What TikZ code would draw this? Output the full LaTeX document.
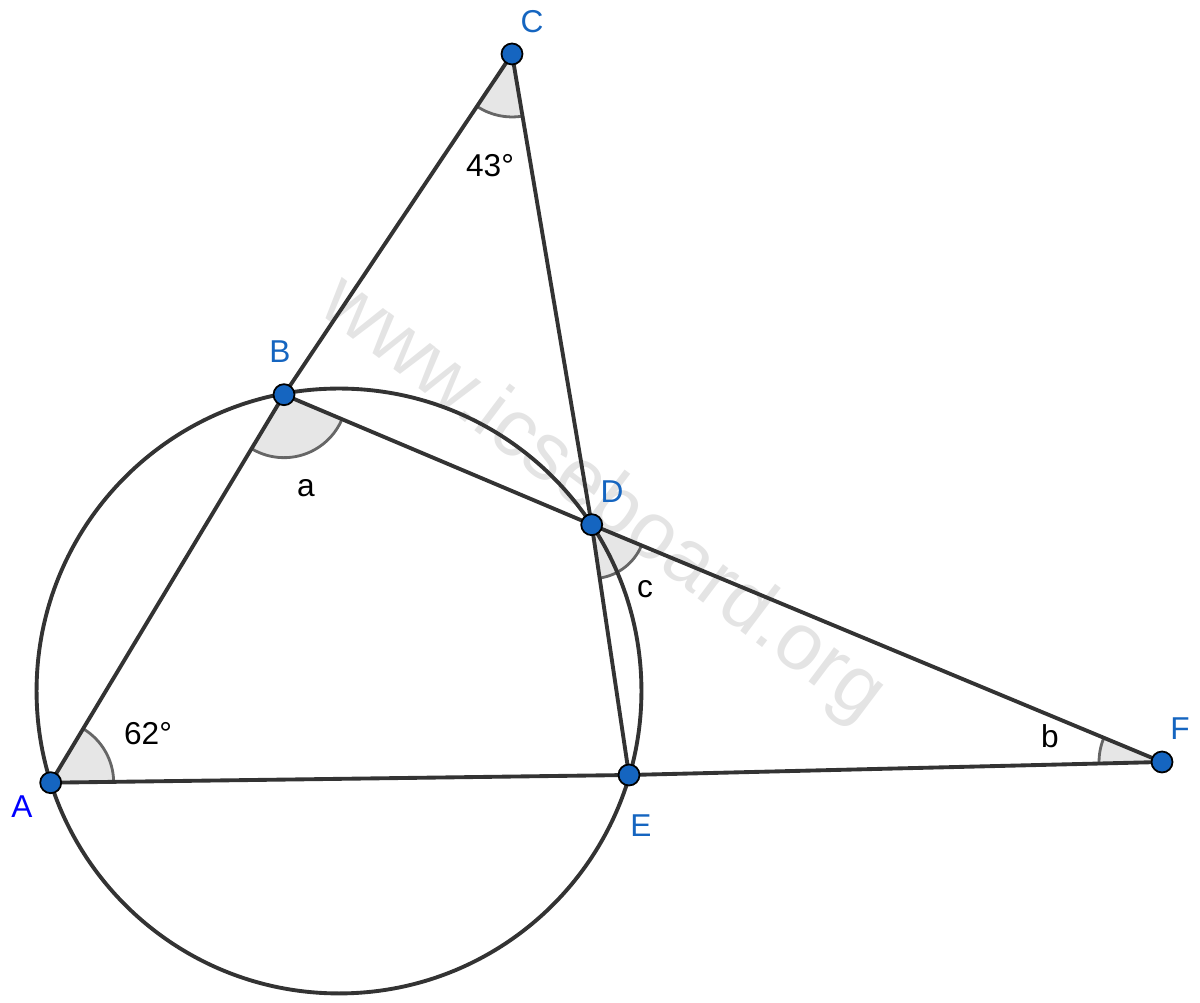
\documentclass[tikz,border=0pt]{standalone}
\usepackage{fontspec}
\setmainfont{Liberation Sans}
\usetikzlibrary{angles}
\definecolor{ggblue}{HTML}{1565C0}
\definecolor{ggpureblue}{HTML}{0000FF}
\definecolor{segcol}{HTML}{333333}
\definecolor{arccol}{HTML}{666666}
\definecolor{anglefill}{HTML}{E6E6E6}
\definecolor{wmark}{HTML}{E4E4E4}
\tikzset{
  seg/.style={draw=segcol, line width=2.2pt, line cap=round},
  ptdot/.style={circle, fill=ggblue, draw=black, line width=1pt, minimum size=0.42cm, inner sep=0pt},
  ptlabel/.style={text=ggblue, anchor=base, font=\fontsize{18}{20}\selectfont},
  anglab/.style={text=black, anchor=base, font=\fontsize{18}{20}\selectfont},
  angmark/.style={draw=arccol, fill=anglefill, line width=1.6pt, angle radius=1.26cm},
}
\begin{document}
\begin{tikzpicture}[x=0.02cm, y=0.02cm]
\useasboundingbox (0,0) rectangle (1200,1003);
% watermark
\node[text=wmark, anchor=center, rotate=-37, font=\fontsize{46}{50}\selectfont] (wm) at (602,503) {www.icseboard.org};
% points
\coordinate (A) at (50.7,220.3);
\coordinate (B) at (284,608.3);
\coordinate (C) at (512,949);
\coordinate (D) at (591.7,478.3);
\coordinate (E) at (629,228);
\coordinate (F) at (1162,241);
\coordinate (O) at (339,312);
% angle marks
\pic[angmark] {angle = E--A--B};
\pic[angmark] {angle = B--C--D};
\pic[angmark] {angle = A--B--D};
\pic[angmark, angle radius=1.08cm] {angle = E--D--F};
\pic[angmark] {angle = D--F--E};
% circle
\draw[seg] (O) circle (6.05cm);
% segments
\draw[seg] (A) -- (B);
\draw[seg] (B) -- (C);
\draw[seg] (C) -- (D);
\draw[seg] (D) -- (E);
\draw[seg] (B) -- (D);
\draw[seg] (D) -- (F);
\draw[seg] (A) -- (E);
\draw[seg] (E) -- (F);
% dots
\node[ptdot] (dA) at (A) {};
\node[ptdot] (dB) at (B) {};
\node[ptdot] (dC) at (C) {};
\node[ptdot] (dD) at (D) {};
\node[ptdot] (dE) at (E) {};
\node[ptdot] (dF) at (F) {};
% labels
\node[ptlabel, text=ggpureblue] (lA) at (22,185) {A};
\node[ptlabel] (lB) at (280,640) {B};
\node[ptlabel] (lC) at (532,970) {C};
\node[ptlabel] (lD) at (612,500) {D};
\node[ptlabel] (lE) at (641,166) {E};
\node[ptlabel] (lF) at (1180,263) {F};
\node[anglab] (l43) at (490,826) {43°};
\node[anglab] (l62) at (148,258) {62°};
\node[anglab] (la) at (306,506) {a};
\node[anglab] (lb) at (1050,255) {b};
\node[anglab] (lc) at (645,405) {c};
\end{tikzpicture}
\end{document}
